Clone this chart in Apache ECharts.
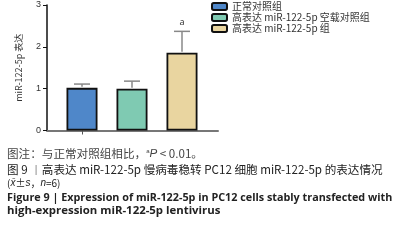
<!DOCTYPE html>
<html>
<head>
<meta charset="utf-8">
<script src="https://cdn.jsdelivr.net/npm/echarts@6/dist/echarts.min.js"></script>
<style>
  html, body { margin: 0; padding: 0; background: #fff; }
  #chart { width: 394px; height: 244px; }
</style>
</head>
<body>
<div id="chart"></div>
<script>
var groups = ['正常对照组', '高表达 miR-122-5p 空载对照组', '高表达 miR-122-5p 组'];
var means = [1.02, 1.0, 1.86];
var upper = [1.11, 1.18, 2.37];
var marks = ['', '', 'a'];
var yTicks = [0, 1, 2, 3];
var colors = ['#4f87c9', '#7fcab2', '#e9d5a0'];

var cjk = '"Noto Sans CJK SC", "Noto Sans", sans-serif';

function barSeries(i){
    var d = groups.map(function (g, j) { return j === i ? means[j] : '-'; });
    return {
        name: groups[i],
        type: 'bar',
        xAxisIndex: 1,
        yAxisIndex: 1,
        stack: 'all',
        barWidth: 31,
        data: d,
        itemStyle: {color: colors[i], borderColor: '#111', borderWidth: 1.8},
        z: 2
    };
}

var errData = groups.map(function (g, i) { return [i, means[i], upper[i], marks[i]]; });

var option = {
    animation: false,
    grid: [
        {left: 47, right: 176, top: 5, bottom: 113.5},
        {left: 57, right: 187, top: 5, bottom: 113.5}
    ],
    legend: {
        orient: 'vertical',
        left: 211,
        top: 1,
        padding: 0,
        itemWidth: 15,
        itemHeight: 7,
        itemGap: 0,
        data: groups,
        textStyle: {fontSize: 10, lineHeight: 11, color: '#333', fontFamily: cjk}
    },
    xAxis: [
        {
            type: 'value', gridIndex: 0, min: 0, max: 1,
            axisLine: {show: true, lineStyle: {color: '#777', width: 2}},
            axisTick: {show: false}, axisLabel: {show: false}, splitLine: {show: false}
        },
        {
            type: 'category', gridIndex: 1, data: groups,
            axisLine: {show: false},
            axisTick: {show: true, alignWithLabel: true, length: 4, lineStyle: {color: '#555', width: 1}},
            axisLabel: {show: false}
        }
    ],
    yAxis: [
        {
            type: 'value', gridIndex: 0, min: 0, max: 3, interval: 1,
            name: 'miR-122-5p 表达',
            nameLocation: 'middle',
            nameGap: 24,
            nameTextStyle: {fontSize: 9, color: '#333', fontFamily: cjk},
            axisLine: {show: true, lineStyle: {color: '#111', width: 1.5}},
            axisTick: {show: true, length: 4, lineStyle: {color: '#111'}},
            axisLabel: {fontSize: 9, color: '#333', margin: 6,
                formatter: function (v) { return yTicks.indexOf(v) >= 0 ? String(v) : ''; }},
            splitLine: {show: false}
        },
        {
            type: 'value', gridIndex: 1, min: 0, max: 3, interval: 1, show: false
        }
    ],
    series: [
        barSeries(0), barSeries(1), barSeries(2),
        {
            type: 'custom',
            xAxisIndex: 1,
            yAxisIndex: 1,
            data: errData,
            z: 3,
            renderItem: function (params, api) {
                var base = api.coord([api.value(0), api.value(1)]);
                var top = api.coord([api.value(0), api.value(2)]);
                var half = 8;
                var st = {stroke: '#888', lineWidth: 1.5};
                var children = [
                    {type: 'line', shape: {x1: base[0], y1: base[1] - 1, x2: top[0], y2: top[1]}, style: st},
                    {type: 'line', shape: {x1: top[0] - half, y1: top[1], x2: top[0] + half, y2: top[1]}, style: st}
                ];
                var m = marks[params.dataIndex];
                if (m) {
                    children.push({type: 'text', style: {text: m, x: top[0], y: top[1] - 4,
                        textAlign: 'center', textVerticalAlign: 'bottom',
                        font: '9px "Noto Sans", sans-serif', fill: '#333'}});
                }
                return {type: 'group', children: children};
            }
        }
    ],
    graphic: [
        {
            type: 'text', left: 7, top: 148,
            style: {
                text: '图注：与正常对照组相比，{sup|a}{i|P} < 0.01。',
                font: '11.6px ' + cjk, fill: '#444',
                rich: {
                    sup: {fontSize: 6, verticalAlign: 'top', padding: [0, 0, 5, 0], fill: '#444'},
                    i: {fontStyle: 'italic', fontSize: 11.6, fill: '#444'}
                }
            }
        },
        {
            type: 'text', left: 7, top: 164,
            style: {text: '图 9 ︱高表达 miR-122-5p 慢病毒稳转 PC12 细胞 miR-122-5p 的表达情况',
                font: '11.6px ' + cjk, fill: '#222'}
        },
        {
            type: 'text', left: 7, top: 178,
            style: {
                text: '({i|x̄}±{i|s}，{i|n}=6)',
                font: '10px ' + cjk, fill: '#222',
                rich: {i: {fontStyle: 'italic', fontSize: 10, fill: '#222'}}
            }
        },
        {
            type: 'text', left: 7, top: 192,
            style: {text: 'Figure 9 | Expression of miR-122-5p in PC12 cells stably transfected with',
                font: 'bold 10.8px "Open Sans", sans-serif', fill: '#222'}
        },
        {
            type: 'text', left: 7, top: 205,
            style: {text: 'high-expression miR-122-5p lentivirus',
                font: 'bold 11.4px "Open Sans", sans-serif', fill: '#222'}
        }
    ]
};

var myChart = echarts.init(document.getElementById('chart'));
myChart.setOption(option);
</script>
</body>
</html>
